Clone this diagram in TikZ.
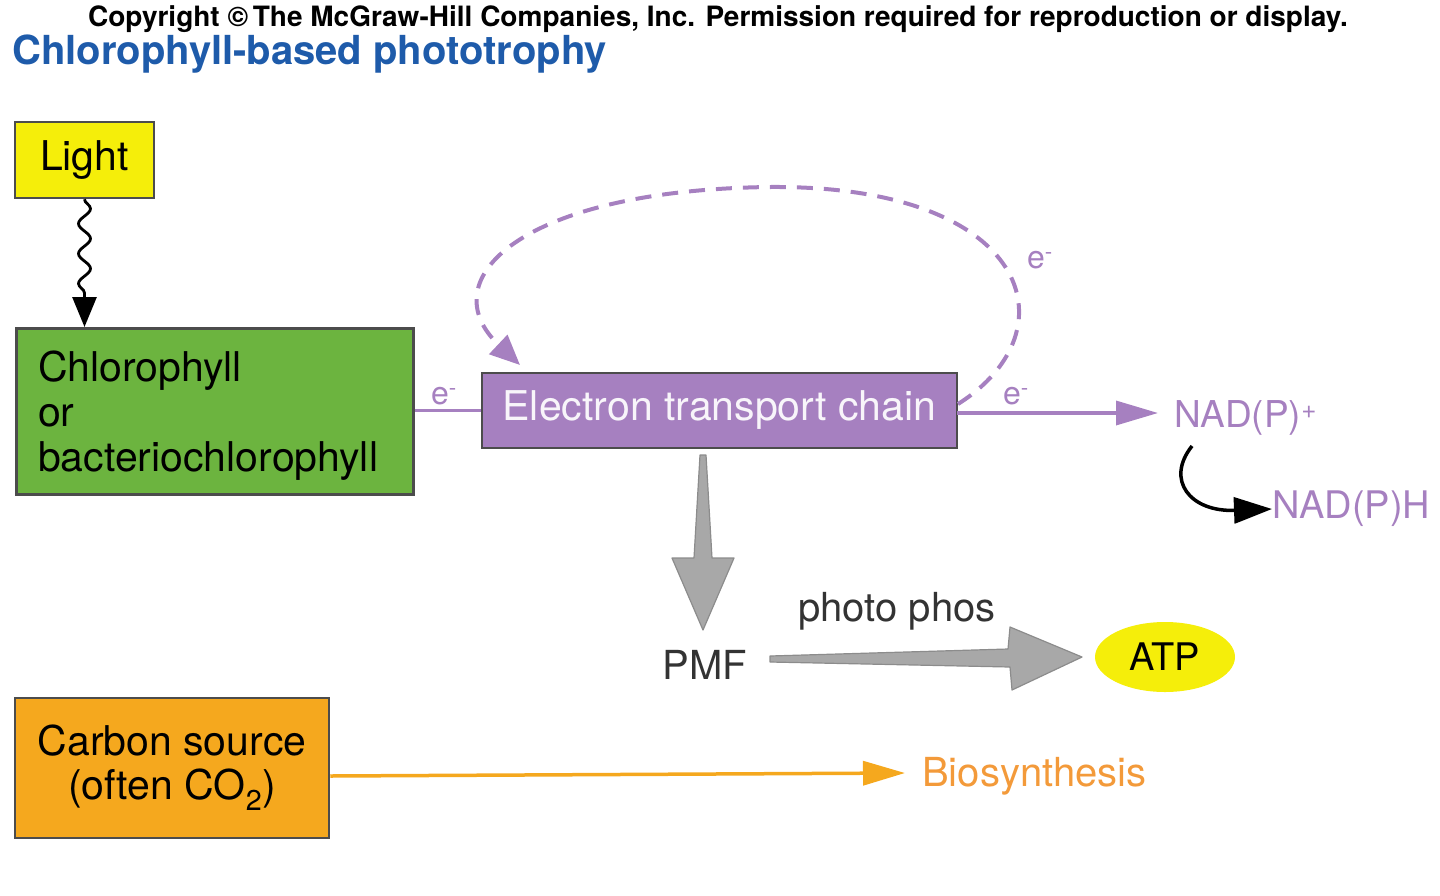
\documentclass[tikz,border=0pt]{standalone}
\usepackage{fontspec}
\setmainfont{TeX Gyre Heros}
\usetikzlibrary{arrows.meta,decorations.pathmorphing,shapes.geometric}
\definecolor{purp}{HTML}{A680C0}
\definecolor{ttl}{HTML}{1E5BAA}
\definecolor{grn}{HTML}{6CB43F}
\definecolor{org}{HTML}{F5A81E}
\definecolor{orgtxt}{HTML}{F39A3A}
\definecolor{yel}{HTML}{F5EE0A}
\definecolor{gry}{HTML}{A8A8A8}
\newcommand{\fs}[1]{\fontsize{#1}{#1}\selectfont}
\begin{document}
\begin{tikzpicture}[x=1pt,y=-1pt,
  box/.style={draw=black!70,line width=2.5pt,inner sep=0pt},
  lbl/.style={font=\fs{32},text=purp},
  garrow/.style={fill=gry,draw=black!45,line width=1.2pt,line join=round}]
\useasboundingbox (0,0) rectangle (1440,895);
\node (copy) at (718,19) {\fs{28}\bfseries Copyright \textcopyright\,The McGraw-Hill Companies, Inc. Permission required for reproduction or display.};
\node[anchor=west,text=ttl,inner sep=0pt] (title) at (12,54) {\fs{40}\bfseries Chlorophyll-based phototrophy};
\node[box,fill=yel,minimum width=139pt,minimum height=76pt,font=\fs{41}] (light) at (84.5,160) {\raisebox{-4pt}{Light}};
\node[box,fill=grn,minimum width=397pt,minimum height=166pt,anchor=north west] (chl) at (15,327) {};
\node[anchor=west,align=left,font=\fontsize{41}{45}\selectfont,inner sep=0pt] (chlt) at (38,416) {Chlorophyll\\or\\bacteriochlorophyll};
\node[box,fill=purp,minimum width=475pt,minimum height=75pt,font=\fs{41},text=white!92!purp] (etc) at (719.5,410.5) {\raisebox{-5pt}{Electron transport chain}};
\node[anchor=west,lbl,font=\fs{37},inner sep=0pt] (nadp) at (1174,418) {NAD(P)\textsuperscript{+}};
\node[anchor=west,lbl,font=\fs{38},inner sep=0pt] (nadph) at (1272,509) {NAD(P)H};
\node[font=\fs{40},text=black!80] (pmf) at (705,665) {PMF};
\node[font=\fs{40},text=black!80] (pp) at (897,611) {photo phos};
\node[ellipse,fill=yel,minimum width=140pt,minimum height=70pt,inner sep=0pt,font=\fs{38}] (atp) at (1165,657) {ATP};
\node[box,fill=org,minimum width=314pt,minimum height=140pt,align=center,font=\fontsize{41}{46}\selectfont] (carb) at (172,768) {\raisebox{-4pt}{\begin{tabular}{c}Carbon source\\[-2pt](often CO\textsubscript{2})\end{tabular}}};
\node[anchor=west,text=orgtxt,inner sep=0pt,font=\fs{40}] (bio) at (922,776) {Biosynthesis};
% wavy arrow
\draw[decorate,decoration={snake,amplitude=6pt,segment length=30pt,post length=30pt},line width=2.8pt,-{Triangle[length=30pt,width=24pt]}] (light.south) -- (chl.north -| light.south);
% e- connectors
\draw[purp,line width=3.5pt] (chl.east |- etc.west) -- (etc.west);
\node[lbl] (e1) at (444,396) {e\textsuperscript{-}};
\coordinate (etcout) at (957,413);
\coordinate (nadpin) at (1158,413);
\draw[purp,line width=3.5pt,-{Triangle[length=42pt,width=24pt]}] (etcout) -- (nadpin);
\node[lbl] (e2) at (1016,396) {e\textsuperscript{-}};
\draw[purp,line width=4pt,dash pattern=on 16pt off 11pt,-{Triangle[length=30pt,width=26pt]}]
  (958,404) ..controls (1075,330) and (1030,185) .. (770,187)
  ..controls (520,190) and (430,280) .. (520,365);
\node[lbl] (e3) at (1040,260) {e\textsuperscript{-}};
\draw[line width=3.5pt,-{Triangle[length=38pt,width=26pt]}] (1192,446) ..controls (1165,480) and (1190,512) .. (nadph.west);
% gray block arrows
\draw[garrow] (700,455) -- (706,455) -- (712,558) -- (734,558) -- (703,630) -- (672,558) -- (694,558) -- cycle;
\draw[garrow] (770,656) -- (770,662) -- (1010,667) -- (1012,690) -- (1082,657) -- (1010,627) -- (1008,649) -- cycle;
\draw[org,line width=3.5pt,-{Triangle[length=42pt,width=24pt]}] (carb.east |- bio.west) -- (905,773);
\end{tikzpicture}
\end{document}
